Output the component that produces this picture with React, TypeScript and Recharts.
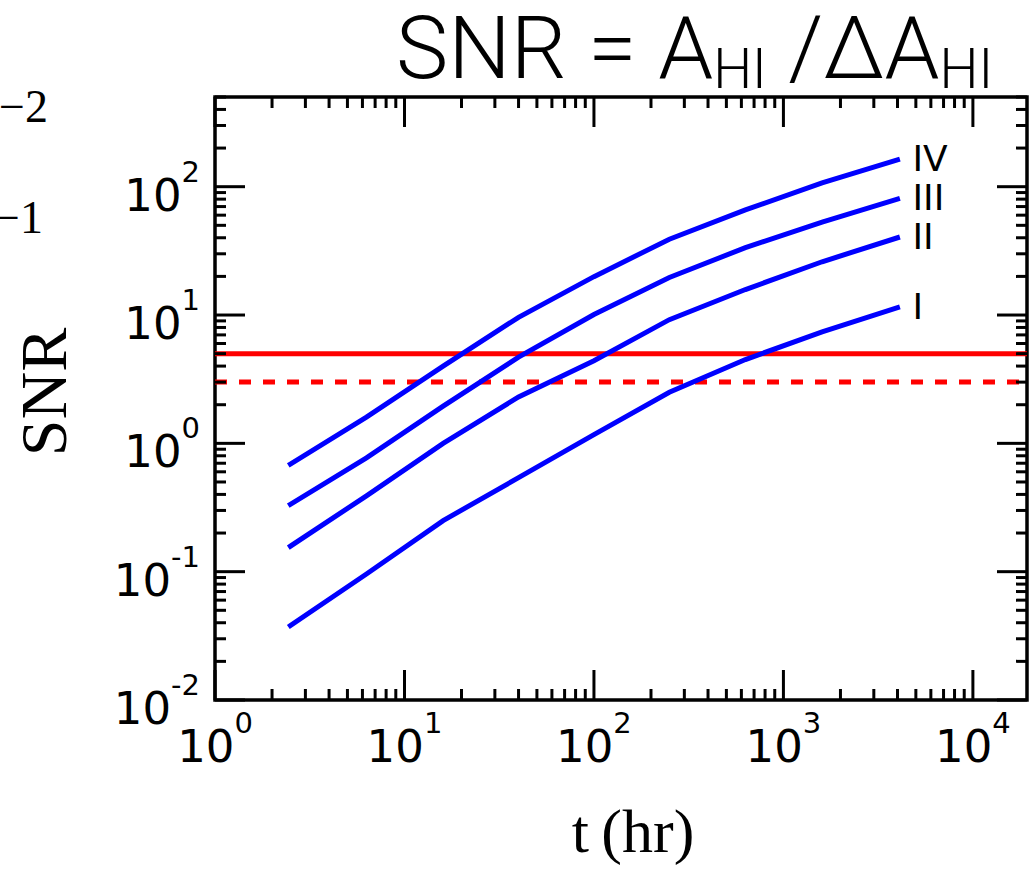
import React from 'react';
import { LineChart, Line, XAxis, YAxis, ReferenceLine, ReferenceArea } from 'recharts';

// sampled observing times (hr) and SNR for the four cases
const tHours = [2.5, 6.3, 16, 40, 100, 250, 630, 1600, 4000];
const snrIV = [0.69, 1.6, 4.0, 9.6, 19.9, 39, 66, 107, 162];
const snrIII = [0.335, 0.77, 1.95, 4.7, 10.1, 19.6, 33.5, 53, 80];
const snrII = [0.158, 0.39, 1.0, 2.3, 4.4, 9.2, 15.8, 26, 40];
const snrI = [0.038, 0.096, 0.25, 0.54, 1.17, 2.5, 4.5, 7.4, 11.4];

const caseNames = ['I', 'II', 'III', 'IV'];
const thresholds = [5, 3];

const xDomain = [1, 19300];
const yDomain = [0.01, 500];
const xTicks = [1, 2, 3, 4, 5, 6, 7, 8, 9, 10, 20, 30, 40, 50, 60, 70, 80, 90, 100, 200, 300, 400, 500, 600, 700, 800, 900, 1000, 2000, 3000, 4000, 5000, 6000, 7000, 8000, 9000, 10000];
const yTicks = [0.01, 0.02, 0.03, 0.04, 0.05, 0.06, 0.07, 0.08, 0.09, 0.1, 0.2, 0.3, 0.4, 0.5, 0.6, 0.7, 0.8, 0.9, 1, 2, 3, 4, 5, 6, 7, 8, 9, 10, 20, 30, 40, 50, 60, 70, 80, 90, 100, 200, 300, 400, 500];

const rows = tHours.map((t, i) => ({ t, I: snrI[i], II: snrII[i], III: snrIII[i], IV: snrIV[i] }));

// layout
const W = 1029;
const H = 869;
const MARGIN = { top: 97, right: 2, bottom: 0, left: 0 };
const Y_AXIS_W = 215;
const X_AXIS_H = 169;
const PLOT_TOP = MARGIN.top;
const PLOT_BOTTOM = H - X_AXIS_H;
const PLOT_LEFT = Y_AXIS_W;
const PLOT_RIGHT = W - MARGIN.right;
const MAJOR = 30;
const MINOR = 11;
const TICK_FONT = '"DejaVu Sans", sans-serif';

const isMajor = (v: number) => Math.abs(Math.log10(v) - Math.round(Math.log10(v))) < 1e-6;
const expOf = (v: number) => String(Math.round(Math.log10(v)));

const XTick = (props: any) => {
  const v = props.payload.value;
  const x = props.payload.coordinate;
  const major = isMajor(v);
  const len = major ? MAJOR : MINOR;
  return (
    <g>
      <line x1={x} x2={x} y1={PLOT_BOTTOM} y2={PLOT_BOTTOM - len} stroke="#000" strokeWidth={3} />
      <line x1={x} x2={x} y1={PLOT_TOP} y2={PLOT_TOP + len} stroke="#000" strokeWidth={3} />
      {major && (
        <text x={x} y={PLOT_BOTTOM + 62} textAnchor="middle" fontFamily={TICK_FONT} fontSize={45} fill="#000">
          10<tspan dy={-29} fontSize={29}>{expOf(v)}</tspan>
        </text>
      )}
    </g>
  );
};

const YTick = (props: any) => {
  const v = props.payload.value;
  const y = props.payload.coordinate;
  const major = isMajor(v);
  const len = major ? MAJOR : MINOR;
  return (
    <g>
      <line x1={PLOT_LEFT} x2={PLOT_LEFT + len} y1={y} y2={y} stroke="#000" strokeWidth={3} />
      <line x1={PLOT_RIGHT} x2={PLOT_RIGHT - len} y1={y} y2={y} stroke="#000" strokeWidth={3} />
      {major && (
        <text x={PLOT_LEFT - 15} y={y + 24} textAnchor="end" fontFamily={TICK_FONT} fontSize={45} fill="#000">
          10<tspan dy={-29} fontSize={29}>{expOf(v)}</tspan>
        </text>
      )}
    </g>
  );
};

const endLabel = (name: string) => (props: any) => {
  if (props.index !== tHours.length - 1) return <g />;
  return (
    <text x={props.x + 15} y={props.y + 11} fontFamily={TICK_FONT} fontSize={36} fill="#000">
      {name}
    </text>
  );
};

export default function App() {
  return (
    <div style={{ position: 'absolute', left: 0, top: 0, width: W, height: H, background: '#fff' }}>
      <LineChart width={W} height={H} data={rows} margin={MARGIN}>
        <XAxis
          dataKey="t"
          type="number"
          scale="log"
          domain={xDomain}
          allowDataOverflow
          ticks={xTicks}
          interval={0}
          height={X_AXIS_H}
          axisLine={false}
          tickLine={false}
          tick={<XTick />}
        />
        <YAxis
          type="number"
          scale="log"
          domain={yDomain}
          allowDataOverflow
          ticks={yTicks}
          interval={0}
          width={Y_AXIS_W}
          axisLine={false}
          tickLine={false}
          tick={<YTick />}
        />
        <ReferenceArea x1={xDomain[0]} x2={xDomain[1]} y1={yDomain[0]} y2={yDomain[1]} fill="none" stroke="#000" strokeWidth={3.5} />
        <ReferenceLine y={thresholds[0]} stroke="#ff0000" strokeWidth={5} />
        <ReferenceLine y={thresholds[1]} stroke="#ff0000" strokeWidth={5} strokeDasharray="12 12" />
        {caseNames.map((name) => (
          <Line
            key={name}
            dataKey={name}
            type="linear"
            stroke="#0000ff"
            strokeWidth={5}
            strokeLinecap="square"
            dot={false}
            isAnimationActive={false}
            label={endLabel(name)}
          />
        ))}
      </LineChart>
      <svg width={W} height={H} style={{ position: 'absolute', left: 0, top: 0, pointerEvents: 'none' }}>
        <text x={396} y={78} fontFamily="Roboto, sans-serif" fontWeight={300} fontSize={88} fill="#000">
          SNR = A<tspan dy={10} fontSize={55}>HI</tspan>
          <tspan dy={-10}> /ΔA</tspan>
          <tspan dy={10} fontSize={55}>HI</tspan>
        </text>
        <text x={66} y={392} transform="rotate(-90, 66, 392)" textAnchor="middle" fontFamily='"Liberation Serif", serif' fontSize={66} fill="#000">
          SNR
        </text>
        <text x={633} y={852} textAnchor="middle" fontFamily='"Liberation Serif", serif' fontSize={62} fill="#000">
          t{'\u2009'}(hr)
        </text>
        <text x={48} y={122} textAnchor="end" fontFamily='"Liberation Serif", serif' fontSize={46} fill="#000">
          −2
        </text>
        <text x={43} y={233} textAnchor="end" fontFamily='"Liberation Serif", serif' fontSize={46} fill="#000">
          −1
        </text>
      </svg>
    </div>
  );
}
